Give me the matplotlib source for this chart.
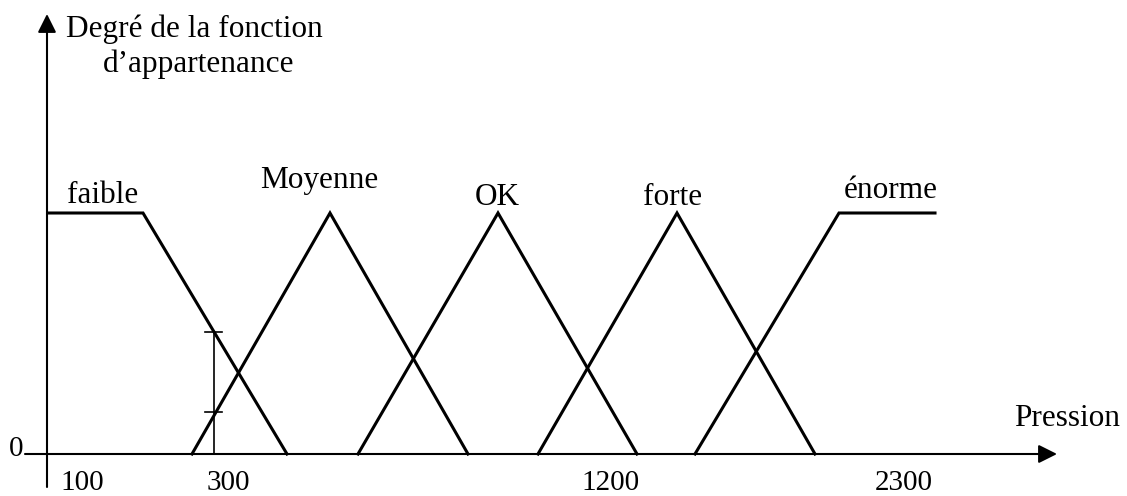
import matplotlib
matplotlib.use("Agg")
import matplotlib.pyplot as plt

# breakpoints of each membership function (diagram units along the axis)
faible_x = [48, 143, 287]
faible_y = [1, 1, 0]
moyenne_x = [192, 330, 468]
moyenne_y = [0, 1, 0]
ok_x = [358, 498, 637]
ok_y = [0, 1, 0]
forte_x = [538, 677, 815]
forte_y = [0, 1, 0]
enorme_x = [695, 839, 935]
enorme_y = [0, 1, 1]

set_names = ["faible", "Moyenne", "OK", "forte", "énorme"]
tick_labels = ["100", "300", "1200", "2300"]

# example reading at pression = 300
x_mesure = 214
deg_faible = 0.506
deg_moyenne = 0.174

plt.rcParams['font.family'] = ['Liberation Serif', 'DejaVu Serif']

fig = plt.figure(figsize=(11.27, 4.96), dpi=100)
ax = fig.add_axes([0, 0, 1, 1])
ax.set_xlim(0, 1127)
# 1 unit of degree = 241 px, zero at 454 px from top
ax.set_ylim(-42 / 241, 454 / 241)
ax.axis("off")

lw = 2.2
for xs, ys in [(faible_x, faible_y), (moyenne_x, moyenne_y), (ok_x, ok_y),
               (forte_x, forte_y), (enorme_x, enorme_y)]:
    ax.plot(xs, ys, color="black", lw=lw, solid_joinstyle="miter")

# axes with arrows
arr = dict(arrowstyle="-|>", lw=1.5, color="black", mutation_scale=28,
           shrinkA=0, shrinkB=0)
ax.annotate("", xy=(1057, 0), xytext=(25, 0), arrowprops=arr)
ax.annotate("", xy=(47, 440 / 241), xytext=(47, -33 / 241), arrowprops=arr)

# measurement at 300
ax.plot([x_mesure, x_mesure], [0, deg_faible], color="black", lw=1.2)
for d in [deg_faible, deg_moyenne]:
    ax.plot([x_mesure - 9, x_mesure + 8], [d, d], color="black", lw=1.2)

fs = 22.5
lab_x = [103, 319, 497, 673, 891]
lab_y = [1.041, 1.104, 1.033, 1.033, 1.062]
for name, lx, ly in zip(set_names, lab_x, lab_y):
    ax.text(lx, ly, name, ha="center", va="baseline", fontsize=fs)

tick_x = [82, 228, 611, 904]
for t, tx in zip(tick_labels, tick_x):
    ax.text(tx, -0.149, t, ha="center", va="baseline", fontsize=21)
ax.text(16, -0.008, "0", ha="center", va="baseline", fontsize=21)

ax.text(1067, 0.116, "Pression", ha="center", va="baseline", fontsize=fs)
ax.text(194, 1.730, "Degré de la fonction", ha="center", va="baseline", fontsize=fs)
ax.text(199, 1.585, "d\u2019appartenance", ha="center", va="baseline", fontsize=fs)

fig.savefig("out.png", dpi=100)
